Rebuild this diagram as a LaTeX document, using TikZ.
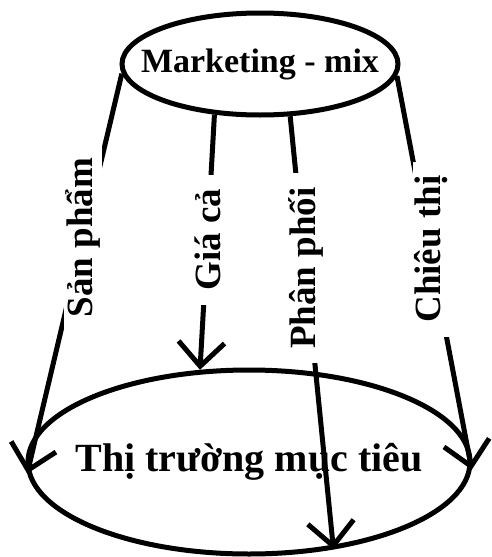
\documentclass[tikz,border=0pt]{standalone}
\usepackage{fontspec}
\setmainfont{Liberation Serif}
\usetikzlibrary{shapes.geometric,arrows.meta}
\begin{document}
\begin{tikzpicture}[x=1pt,y=-1pt,
  ell/.style={ellipse,draw,line width=5pt,inner ysep=0pt,inner xsep=-24pt},
  conn/.style={line width=5pt},
  arr/.style={conn,-{Straight Barb[length=24pt,width=46pt,line width=5pt]}},
  lbl/.style={rotate=90,fill=white,inner xsep=14pt,inner ysep=2pt,font=\fontsize{37}{40}\selectfont\bfseries}]
\useasboundingbox (0,0) rectangle (492,557);
\node[ell,minimum width=276pt,minimum height=102pt,font=\fontsize{34}{38}\selectfont\bfseries] (mm) at (260,64) {Marketing - mix};
\node[ell,minimum width=442pt,minimum height=184pt,font=\fontsize{40}{44}\selectfont\bfseries] (tt) at (249,462) {Thị trường mục tiêu};
\draw[arr] (mm.184.6) -- node[lbl,pos=0.41] {Sản phẩm} (tt.183);
\draw[arr] (mm.228.6) -- node[lbl,pos=0.49] {Giá cả} (tt.118.8);
\draw[arr] (mm.300.5) -- node[lbl,pos=0.36,xshift=4pt] {Phân phối} (tt.314.7);
\draw[arr] (mm.355.4) -- node[lbl,pos=0.46,xshift=8pt] {Chiêu thị} (tt.358.7);
\end{tikzpicture}
\end{document}
